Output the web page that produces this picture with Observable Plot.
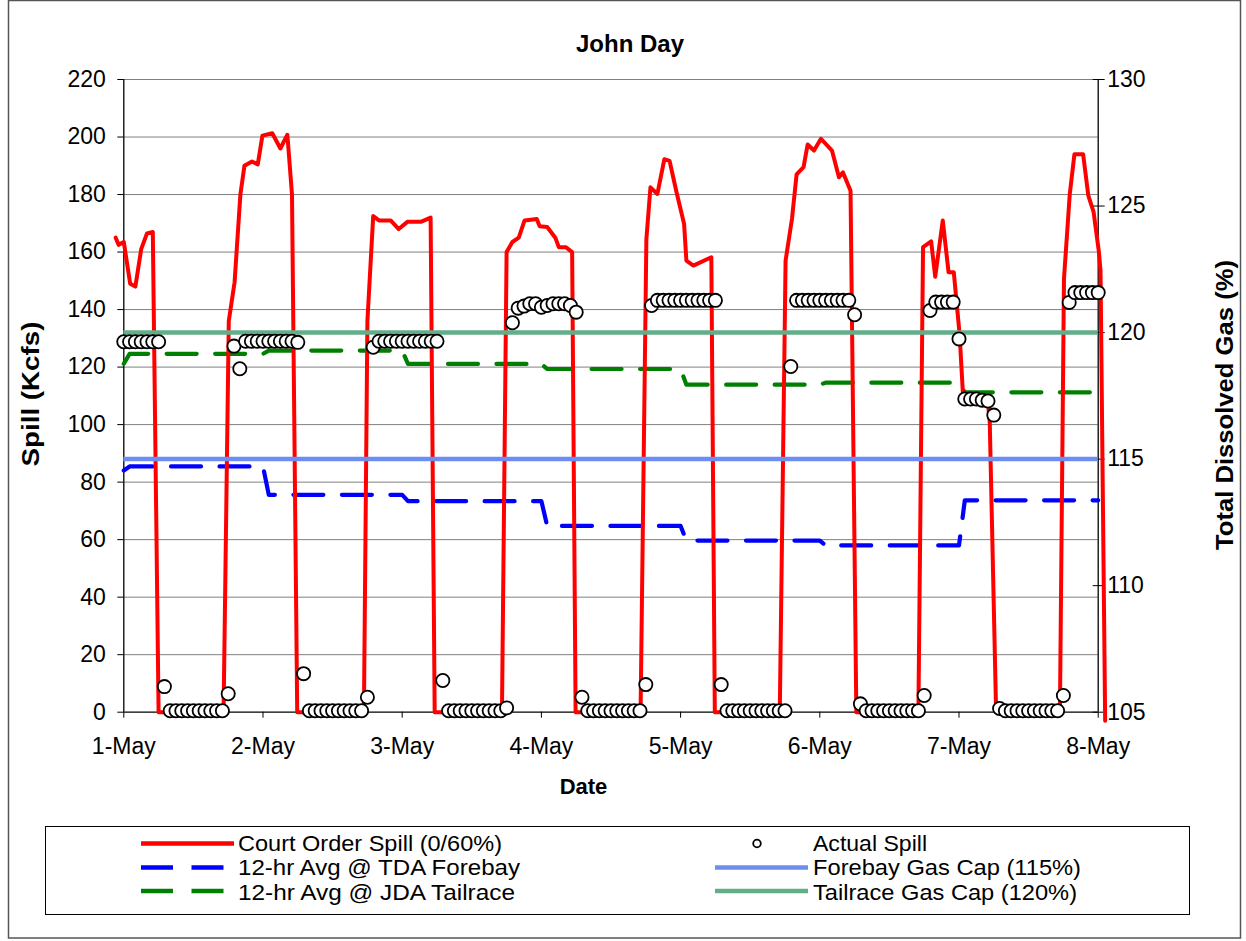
<!DOCTYPE html>
<html><head><meta charset="utf-8">
<script src="https://cdn.jsdelivr.net/npm/d3@7"></script>
<script src="https://cdn.jsdelivr.net/npm/@observablehq/plot@0.6"></script>
<style>
html,body{margin:0;padding:0;background:#fff;}
#wrap{position:relative;width:1246px;height:941px;overflow:hidden;background:#fff;font-family:"Liberation Sans",Arial,sans-serif;}
#chart{position:absolute;left:0;top:0;}
#overlay{position:absolute;left:0;top:0;pointer-events:none;}
</style></head><body>
<div id="wrap"><div id="chart"></div>
<svg id="overlay" width="1246" height="941" xmlns="http://www.w3.org/2000/svg" font-family="Liberation Sans, Arial, sans-serif">
  <rect x="8.5" y="0.5" width="1232" height="937.5" fill="none" stroke="#555" stroke-width="1.5"/>
  <text x="630" y="52" text-anchor="middle" font-size="24" font-weight="bold">John Day</text>
  <text transform="translate(39,394) rotate(-90)" text-anchor="middle" font-size="23" font-weight="bold" textLength="145" lengthAdjust="spacingAndGlyphs">Spill (Kcfs)</text>
  <text transform="translate(1233,405) rotate(-90)" text-anchor="middle" font-size="23" font-weight="bold" textLength="290" lengthAdjust="spacingAndGlyphs">Total Dissolved Gas (%)</text>
  <text x="583.5" y="794" text-anchor="middle" font-size="22" font-weight="bold">Date</text>
  <rect x="45.5" y="826.5" width="1144" height="88" fill="#fff" stroke="#000" stroke-width="1"/>
  <line x1="141" x2="234" y1="843.5" y2="843.5" stroke="#FF0000" stroke-width="4.5"/>
  <text x="238" y="851" font-size="21.5" textLength="264" lengthAdjust="spacingAndGlyphs">Court Order Spill (0/60%)</text>
  <circle cx="757" cy="843.5" r="3.8" fill="#fff" stroke="#000" stroke-width="1.8"/>
  <text x="813" y="851" font-size="21.5" textLength="114" lengthAdjust="spacingAndGlyphs">Actual Spill</text>
  <line x1="141" x2="224" y1="867.5" y2="867.5" stroke="#0000FF" stroke-width="4.5" stroke-dasharray="32,18.5"/>
  <text x="238" y="875.3" font-size="21.5" textLength="282" lengthAdjust="spacingAndGlyphs">12-hr Avg @ TDA Forebay</text>
  <line x1="715" x2="808" y1="867.5" y2="867.5" stroke="#6C8EF0" stroke-width="4.5"/>
  <text x="813" y="875.3" font-size="21.5" textLength="268" lengthAdjust="spacingAndGlyphs">Forebay Gas Cap (115%)</text>
  <line x1="141" x2="224" y1="891" y2="891" stroke="#008000" stroke-width="4.5" stroke-dasharray="32,18.5"/>
  <text x="238" y="899.6" font-size="21.5" textLength="277" lengthAdjust="spacingAndGlyphs">12-hr Avg @ JDA Tailrace</text>
  <line x1="715" x2="808" y1="891" y2="891" stroke="#62AE88" stroke-width="4.5"/>
  <text x="813" y="899.6" font-size="21.5" textLength="264" lengthAdjust="spacingAndGlyphs">Tailrace Gas Cap (120%)</text>
</svg>
</div>
<script>
// ---- data (hours after 1-May 00:00) ----
const dayLabels = ["1-May","2-May","3-May","4-May","5-May","6-May","7-May","8-May"];
const spillTicks = [0,20,40,60,80,100,120,140,160,180,200,220];
const gasTicks = [105,110,115,120,125,130];

// Court Order Spill (0/60%), Kcfs
const courtHours = [-1.4,-0.9,0,1.1,2,3,4,5,6,
  17.2,18.1,19.1,20.1,20.8,22.1,23.1,23.9,25.6,27,28.2,29,29.9,
  41.4,42,43,44,46,47.4,48.9,51.2,52.9,53.6,
  65.2,66,67,68.1,69.1,71.2,71.7,73,74.4,75,76.2,77.3,77.9,
  89.1,90.1,90.8,92,93.2,94.1,95.3,96.6,97,98.2,101.3,101.9,
  113.1,114.1,115.2,116,117.2,117.9,119,120.2,122.1,123.3,124,125.3,126.3,
  137,137.8,139.2,139.9,141.2,142.2,143.1,144.1,144.7,148.9,149.3,150.4,
  161.4,162.1,163.1,163.9,165.4,166.3,167.2,168.1,168.4,169.2];
const courtSpill = [165,162.5,163.5,149,148,161,166.5,167,0,
  0,136,149.5,180,190,191.5,190.5,200.5,201.3,196,200.8,180,0,
  0,136,172.5,171,171,168,170.5,170.5,172,0,
  0,160,163.5,165,171,171.5,169,168.7,165,161.7,161.7,160,0,
  0,164.5,182.5,180.2,192.3,191.7,180.8,169.8,157,155.3,158.2,0,
  0,157,171.5,187,189.5,197.4,195.3,199.4,195.3,186,187.7,181.3,0,
  0,161.7,163.7,151.4,171,153,153,131.5,110,109.4,101,0,
  0,150.7,180.2,194,194,179.6,174,160.4,153.5,-3];

// Actual Spill, hourly from 1-May 00:00 (h0 ... h168), Kcfs
const actualSpill = [
  128.8,128.8,128.8,128.8,128.8,128.8,128.8,
  8.9,0.5,0.5,0.5,0.5,0.5,0.5,0.5,0.5,0.5,0.5,6.4,
  127.3,119.4,129,129,129,129,129,129,129,129,129,128.6,
  13.4,0.5,0.5,0.5,0.5,0.5,0.5,0.5,0.5,0.5,0.5,5.2,
  126.9,129,129,129,129,129,129,129,129,129,129,129,
  11.0,0.5,0.5,0.5,0.5,0.5,0.5,0.5,0.5,0.5,0.5,1.5,
  135.4,140.5,141.2,142,142,140.8,141.4,142,142,142,141.4,139.1,
  5.2,0.5,0.5,0.5,0.5,0.5,0.5,0.5,0.5,0.5,0.5,9.6,
  141.4,143.2,143.2,143.2,143.2,143.2,143.2,143.2,143.2,143.2,143.2,143.2,
  9.6,0.5,0.5,0.5,0.5,0.5,0.5,0.5,0.5,0.5,0.5,0.5,
  120.2,143.2,143.2,143.2,143.2,143.2,143.2,143.2,143.2,143.2,143.2,138.2,
  2.9,0.5,0.5,0.5,0.5,0.5,0.5,0.5,0.5,0.5,0.5,5.8,
  139.7,142.6,142.6,142.6,142.6,129.8,108.9,108.9,108.9,108.5,108.2,103.3,
  1.3,0.5,0.5,0.5,0.5,0.5,0.5,0.5,0.5,0.5,0.5,5.8,
  142.5,145.9,145.9,145.9,145.9,145.9];

// 12-hr Avg @ TDA Forebay, TDG %
const forebayHours = [0,1,24,25,48,49,72,73,96,97,120,121,144,145,168];
const forebayTDG = [114.55,114.71,114.71,113.59,113.59,113.34,113.34,112.36,112.36,111.78,111.78,111.59,111.59,113.37,113.37];
// 12-hr Avg @ JDA Tailrace, TDG %
const tailraceHours = [0,1,24,25,48,49,72,73,96,97,120,121,144,145,168];
const tailraceTDG = [118.77,119.16,119.16,119.29,119.29,118.76,118.76,118.56,118.56,117.94,117.94,118.02,118.02,117.64,117.64];
// gas caps, TDG %
const forebayCap = [115];
const tailraceCap = [120];

// ---- build ----
const t0 = Date.UTC(2008, 4, 1);
const HOUR = 3600e3;
const toDate = h => new Date(t0 + h * HOUR);
const dayDates = dayLabels.map((_, i) => toDate(i * 24));
// right axis (TDG %, 105..130) mapped onto the left axis (Kcfs, 0..220)
const gasMin = gasTicks[0], gasMax = gasTicks[gasTicks.length - 1];
const spillMax = spillTicks[spillTicks.length - 1];
const gas2spill = g => (g - gasMin) * spillMax / (gasMax - gasMin);
const spill2gas = s => gasMin + s * (gasMax - gasMin) / spillMax;

const court = courtHours.map((h, i) => ({t: toDate(h), v: courtSpill[i]}));
const actual = actualSpill.map((v, i) => ({t: toDate(i), v}));
const forebay = forebayHours.map((h, i) => ({t: toDate(h), v: gas2spill(forebayTDG[i])}));
const tailrace = tailraceHours.map((h, i) => ({t: toDate(h), v: gas2spill(tailraceTDG[i])}));

const W = 1246, H = 941;
const plotTop = 79, plotBottom = 711.7, plotLeft = 123.3, plotRight = 1097.7;

const chart = Plot.plot({
  width: W, height: H,
  marginTop: plotTop, marginBottom: H - plotBottom, marginLeft: plotLeft, marginRight: W - plotRight,
  style: {fontFamily: '"Liberation Sans", Arial, sans-serif', fontSize: "23px", color: "#000", background: "transparent", overflow: "visible"},
  x: {type: "utc", domain: [dayDates[0], dayDates[dayDates.length - 1]]},
  y: {domain: [0, spillMax]},
  marks: [
    Plot.gridY(spillTicks.filter(d => d > 0), {stroke: "#808080", strokeOpacity: 1, strokeWidth: 1}),
    Plot.axisY({ticks: spillTicks, tickSize: 6, tickPadding: 12, label: null, fontSize: 23}),
    Plot.axisY({anchor: "right", ticks: gasTicks.map(gas2spill), tickFormat: d => String(Math.round(spill2gas(d))), tickSize: 12, dx: -6, tickPadding: 3, label: null, fontSize: 23}),
    Plot.axisX({ticks: dayDates, tickFormat: d => dayLabels[Math.round((d - t0) / (24 * HOUR))], tickSize: 6, tickPadding: 19, label: null, fontSize: 23}),
    Plot.ruleX([dayDates[0], dayDates[dayDates.length - 1]], {stroke: "#000", strokeWidth: 1.3}),
    Plot.ruleY([0], {stroke: "#000", strokeWidth: 1.3}),
    Plot.line(forebay, {x: "t", y: "v", stroke: "#0000FF", strokeWidth: 4.2, strokeDasharray: "30,18.5"}),
    Plot.line(tailrace, {x: "t", y: "v", stroke: "#008000", strokeWidth: 4.2, strokeDasharray: "30,18.5"}),
    Plot.line(court, {x: "t", y: "v", stroke: "#FF0000", strokeWidth: 4, strokeLinejoin: "round", strokeLinecap: "round"}),
    Plot.ruleY(forebayCap.map(gas2spill), {stroke: "#6C8EF0", strokeWidth: 4.5}),
    Plot.ruleY(tailraceCap.map(gas2spill), {stroke: "#62AE88", strokeWidth: 4.5}),
    Plot.dot(actual, {x: "t", y: "v", r: 6.6, fill: "#fff", stroke: "#000", strokeWidth: 1.8})
  ]
});
document.getElementById("chart").appendChild(chart);
</script>
</body></html>
